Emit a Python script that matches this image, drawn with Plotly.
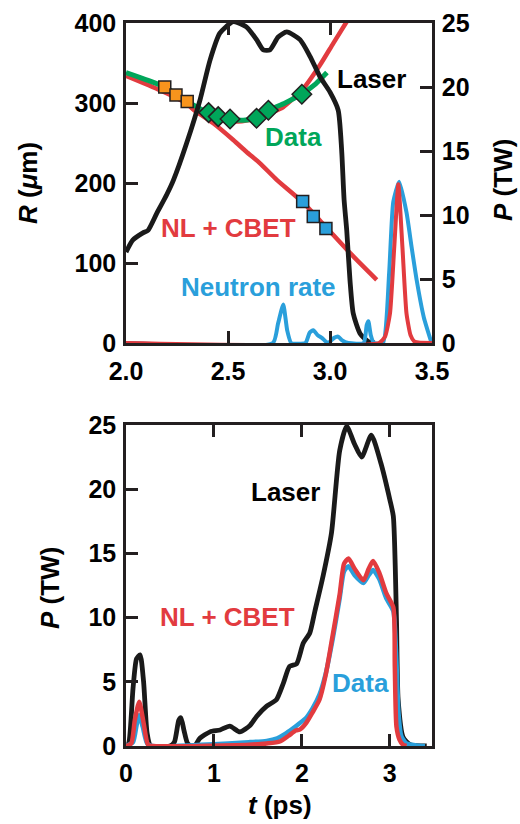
import plotly.graph_objects as go

# ---------------- Top panel data ----------------
laser_top_t = [2.0, 2.034, 2.083, 2.108, 2.15, 2.2, 2.232, 2.297, 2.363, 2.412, 2.46, 2.526, 2.59, 2.64,
               2.673, 2.706, 2.746, 2.788, 2.853, 2.902, 2.951, 3.0, 3.04, 3.057, 3.069, 3.082, 3.098,
               3.114, 3.147, 3.188, 3.22]
laser_top_p = [7.1, 8.05, 8.6, 8.8, 10.1, 11.6, 12.7, 15.6, 19.0, 22.1, 24.2, 25.1, 24.7, 23.7,
               22.9, 22.9, 23.9, 24.3, 23.7, 22.4, 20.8, 19.6, 18.2, 15.1, 11.2, 8.8, 4.9,
               2.3, 0.75, 0.1, 0.0]

data_line_t = [2.0, 2.1, 2.19, 2.30, 2.40, 2.45, 2.51, 2.575, 2.64, 2.70, 2.78, 2.86, 2.93, 2.985]
data_line_r = [338, 329, 320, 302, 288, 283, 279.6, 278.5, 281, 291, 300, 311, 324, 338]

sim_down_t = [2.0, 2.167, 2.297, 2.346, 2.428, 2.526, 2.59, 2.657, 2.739, 2.866, 2.98, 3.1, 3.229]
sim_down_r = [334, 316, 299.6, 289, 274.6, 253.7, 239, 224.6, 204, 176, 145, 112, 79]

sim_up_t = [2.297, 2.346, 2.45, 2.55, 2.64, 2.71, 2.771, 2.869, 2.951, 3.016, 3.082]
sim_up_r = [299.6, 289, 280, 277, 281, 288, 295, 318, 347.5, 374.6, 401.7]

orange_t = [2.19, 2.245, 2.30]
orange_r = [320, 310, 302]
diamond_t = [2.405, 2.452, 2.51, 2.64, 2.698, 2.862]
diamond_r = [288, 283, 280, 281, 291, 311]
blue_sq_t = [2.866, 2.918, 2.98]
blue_sq_r = [177, 158, 143]

neut_data_t = [2.0, 2.72, 2.745, 2.771, 2.79, 2.81, 2.88, 2.9, 2.918, 2.94, 2.96, 2.99, 3.02, 3.04, 3.06,
               3.09, 3.165, 3.18, 3.188, 3.2, 3.215, 3.26, 3.29, 3.31, 3.339, 3.375, 3.4, 3.425,
               3.46, 3.498]
neut_data_p = [0, 0, 1.5, 3.0, 1.0, 0, 0, 0.8, 1.0, 0.6, 0.4, 0, 0.4, 0.5, 0.2,
               0, 0, 1.4, 1.7, 0.6, 0, 0, 5.5, 11.0, 12.6, 10.2, 7.5, 4.9,
               2.0, 0]
neut_sim_t = [2.0, 3.24, 3.27, 3.294, 3.315, 3.335, 3.355, 3.375, 3.395, 3.415, 3.5]
neut_sim_p = [0, 0, 0.5, 2.3, 7.5, 12.4, 7.5, 2.3, 0.6, 0.1, 0]

# ---------------- Bottom panel data ----------------
laser_t = [0, 0.03, 0.08, 0.12, 0.16, 0.2, 0.24, 0.28, 0.5, 0.55, 0.6, 0.625, 0.66, 0.7, 0.74, 0.78, 0.84,
           0.955, 1.07, 1.18, 1.295, 1.41, 1.485, 1.6, 1.71, 1.79, 1.86, 1.94, 2.015, 2.09, 2.148,
           2.24, 2.337, 2.43, 2.51, 2.6, 2.68, 2.79, 2.9, 3.0, 3.04, 3.076, 3.095, 3.15, 3.23, 3.42]
laser_p = [0, 0.2, 4.5, 6.8, 7.1, 5.0, 1.0, 0, 0, 0.3, 2.0, 2.2, 1.2, 0.2, 0, 0, 0.6,
           1.1, 1.25, 1.55, 1.1, 1.6, 2.3, 3.1, 3.6, 4.9, 6.2, 6.4, 8.0, 8.8, 10.5,
           13.2, 16.6, 23.0, 24.9, 23.5, 22.5, 24.2, 22.0, 19.2, 17.9, 9.8, 3.6, 0.7, 0.1, 0]

sim_t = [0, 0.06, 0.1, 0.15, 0.2, 0.25, 0.3, 1.4, 1.6, 1.75, 1.85, 1.93, 1.98, 2.05, 2.12, 2.2,
         2.27, 2.34, 2.43, 2.48, 2.53, 2.6, 2.7, 2.76, 2.81, 2.88, 2.96, 3.04, 3.057, 3.076,
         3.11, 3.15, 3.19]
sim_p = [0, 0.2, 2.0, 3.45, 1.8, 0.1, 0, 0.1, 0.2, 0.35, 0.8, 1.2, 1.3, 1.8, 2.6, 3.6,
         5.5, 8.2, 11.8, 14.2, 14.6, 13.8, 12.9, 13.8, 14.4, 13.5, 11.9, 10.8, 6.2, 1.5,
         0.5, 0.1, 0]

meas_t = [0, 0.08, 0.12, 0.15, 0.19, 0.24, 0.3, 1.4, 1.6, 1.72, 1.8, 1.9, 1.96, 2.05, 2.12, 2.2,
          2.27, 2.35, 2.43, 2.48, 2.53, 2.6, 2.7, 2.76, 2.81, 2.88, 2.96, 3.04, 3.07, 3.1, 3.13,
          3.19, 3.3, 3.4]
meas_p = [0, 0.3, 1.6, 2.4, 1.5, 0.2, 0, 0.3, 0.4, 0.6, 0.9, 1.38, 1.7, 2.2, 2.9, 4.0,
          5.6, 8.3, 11.5, 13.6, 14.0, 13.3, 12.7, 13.3, 13.7, 13.0, 11.5, 10.5, 7.5, 2.5, 0.8,
          0.2, 0.05, 0]

top_x_ticks = [2.0, 2.5, 3.0, 3.5]
top_x_labels = ["2.0", "2.5", "3.0", "3.5"]
r_ticks = [0, 100, 200, 300, 400]
p_ticks = [0, 5, 10, 15, 20, 25]
bot_x_ticks = [0, 1, 2, 3]

# ---------------- Styling ----------------
BLACK = "#1a1a1a"
RED = "#e23b3f"
BLUE = "#2a9fdb"
GREEN = "#00a65a"
ORANGE = "#f7941d"
AXC = "#231f20"
FONT = "Liberation Sans"
TICKFONT = dict(family=FONT, size=25, color="black", weight="bold")
W, H = 520, 824


def px(x):
    return x / W


def py(y):
    return 1 - y / H


fig = go.Figure()

def line(x, y, xa, ya, color, width, smooth=0.6):
    fig.add_trace(go.Scatter(x=x, y=y, xaxis=xa, yaxis=ya, mode="lines",
                             line=dict(color=color, width=width, shape="spline", smoothing=smooth),
                             showlegend=False, hoverinfo="skip"))

# top panel
line(laser_top_t, laser_top_p, "x", "y2", BLACK, 4.8)
line(neut_data_t, neut_data_p, "x", "y2", BLUE, 4, 0.5)
line(neut_sim_t, neut_sim_p, "x", "y2", RED, 4, 0.5)
line(sim_down_t, sim_down_r, "x", "y", RED, 4.5)
line(sim_up_t, sim_up_r, "x", "y", RED, 4.5)
line(data_line_t, data_line_r, "x", "y", GREEN, 5)

fig.add_trace(go.Scatter(x=orange_t, y=orange_r, xaxis="x", yaxis="y", mode="markers",
                         marker=dict(symbol="square", size=12, color=ORANGE,
                                     line=dict(color=AXC, width=1.5)), showlegend=False))
fig.add_trace(go.Scatter(x=diamond_t, y=diamond_r, xaxis="x", yaxis="y", mode="markers",
                         marker=dict(symbol="diamond", size=15, color=GREEN,
                                     line=dict(color=AXC, width=1.5)), showlegend=False))
fig.add_trace(go.Scatter(x=blue_sq_t, y=blue_sq_r, xaxis="x", yaxis="y", mode="markers",
                         marker=dict(symbol="square", size=12, color=BLUE,
                                     line=dict(color=AXC, width=1.5)), showlegend=False))

# bottom panel
line(laser_t, laser_p, "x2", "y3", BLACK, 4.8)
line(meas_t, meas_p, "x2", "y3", BLUE, 4.5)
line(sim_t, sim_p, "x2", "y3", RED, 4.5)

axis_common = dict(showline=True, linecolor=AXC, linewidth=2.5, ticks="inside", ticklen=12,
                   tickwidth=2.5, tickcolor=AXC, showgrid=False, zeroline=False,
                   tickfont=TICKFONT, automargin=False)

fig.update_layout(
    width=W, height=H, margin=dict(l=0, r=0, t=0, b=0, autoexpand=False),
    paper_bgcolor="white", plot_bgcolor="white", showlegend=False,
    xaxis=dict(domain=[px(126), px(432)], range=[2.0, 3.5], anchor="y",
               tickvals=top_x_ticks, ticktext=top_x_labels, mirror="ticks",
               ticklabelstandoff=4, **axis_common),
    yaxis=dict(domain=[py(343), py(23)], range=[0, 400], anchor="x",
               tickvals=r_ticks, ticklabelstandoff=2, **axis_common),
    yaxis2=dict(range=[0, 25], overlaying="y", side="right", anchor="x",
                tickvals=p_ticks, ticklabelstandoff=2, **axis_common),
    xaxis2=dict(domain=[px(126), px(432)], range=[0, 3.48], anchor="y3",
                tickvals=bot_x_ticks, mirror="ticks", ticklabelstandoff=3, **axis_common),
    yaxis3=dict(domain=[py(746), py(425)], range=[0, 25], anchor="x2",
                tickvals=p_ticks, mirror=True, ticklabelstandoff=2, **axis_common),
)

def label(text, x, y, color, angle=0):
    fig.add_annotation(text=text, x=px(x), y=py(y), xref="paper", yref="paper",
                       showarrow=False, textangle=angle, xanchor="center", yanchor="middle",
                       font=dict(family=FONT, size=26, color=color, weight="bold"))

label("Laser", 371, 79, "black")
label("Data", 293, 137, GREEN)
label("NL + CBET", 228, 228, RED)
label("Neutron rate", 258, 287, BLUE)
label("<i>R</i> (<i>μ</i>m)", 28, 183, "black", -90)
label("<i>P</i> (TW)", 503, 180, "black", -90)

label("Laser", 285, 492, "black")
label("NL + CBET", 227, 617, RED)
label("Data", 360, 683, BLUE)
label("<i>P</i> (TW)", 50, 588, "black", -90)
label("<i>t</i> (ps)", 280, 805, "black")

fig.write_html("out.html")
